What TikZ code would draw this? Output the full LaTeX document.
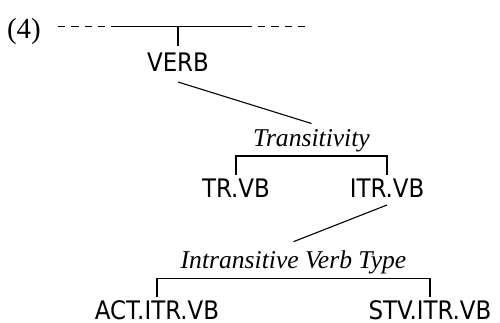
\documentclass[tikz,border=0pt]{standalone}
\usepackage{fontspec}
\setmainfont{Liberation Serif}
\newfontfamily\labfont{DejaVu Sans Condensed}
\begin{document}
\begin{tikzpicture}[x=1pt,y=-1pt,
  line width=1.1pt,
  cat/.style={font=\labfont\fontsize{25.5}{30}\selectfont, inner sep=0pt, anchor=base},
  feat/.style={font=\fontsize{25.6}{30}\selectfont\itshape, inner sep=0pt, anchor=base},
  dashline/.style={dash pattern=on 7.3pt off 6pt}]
\useasboundingbox (0,0) rectangle (500,322);
% example number
\node[font=\fontsize{29}{34}\selectfont, inner sep=0pt, anchor=base west] (num) at (6.5,38) {(4)};
% top line
\coordinate (dl) at (58,26.5);
\coordinate (sl) at (112,26.5);
\coordinate (sr) at (252,26.5);
\coordinate (dr0) at (258,26.5);
\coordinate (dr) at (307,26.5);
\coordinate (top) at (178,26.5);
\draw[dashline] (dl) -- (sl);
\draw (sl) -- (sr);
\draw[dashline] (dr0) -- (dr);
% nodes
\node[cat] (verb) at (178,71) {VERB};
\node[feat] (trans) at (311.5,146) {Transitivity};
\node[cat] (tr) at (236,197) {TR.VB};
\node[cat] (itr) at (387,197) {ITR.VB};
\node[feat] (ivt) at (293.5,268) {Intransitive Verb Type};
\node[cat] (act) at (157,319) {ACT.ITR.VB};
\node[cat] (stv) at (430,319) {STV.ITR.VB};
% connectors
\draw (top) -- ([yshift=6pt]verb.north);
\draw ([yshift=-11pt]verb.base) -- ([yshift=5pt]trans.north);
\draw ([yshift=3pt]tr.north) |- ([yshift=-10pt]trans.base) -| ([yshift=3pt]itr.north);
\draw ([yshift=-8pt]itr.base) -- ([yshift=8pt]ivt.north);
\draw ([yshift=3pt]act.north) |- ([yshift=-10.5pt]ivt.base) -| ([yshift=3pt]stv.north);
\end{tikzpicture}
\end{document}
